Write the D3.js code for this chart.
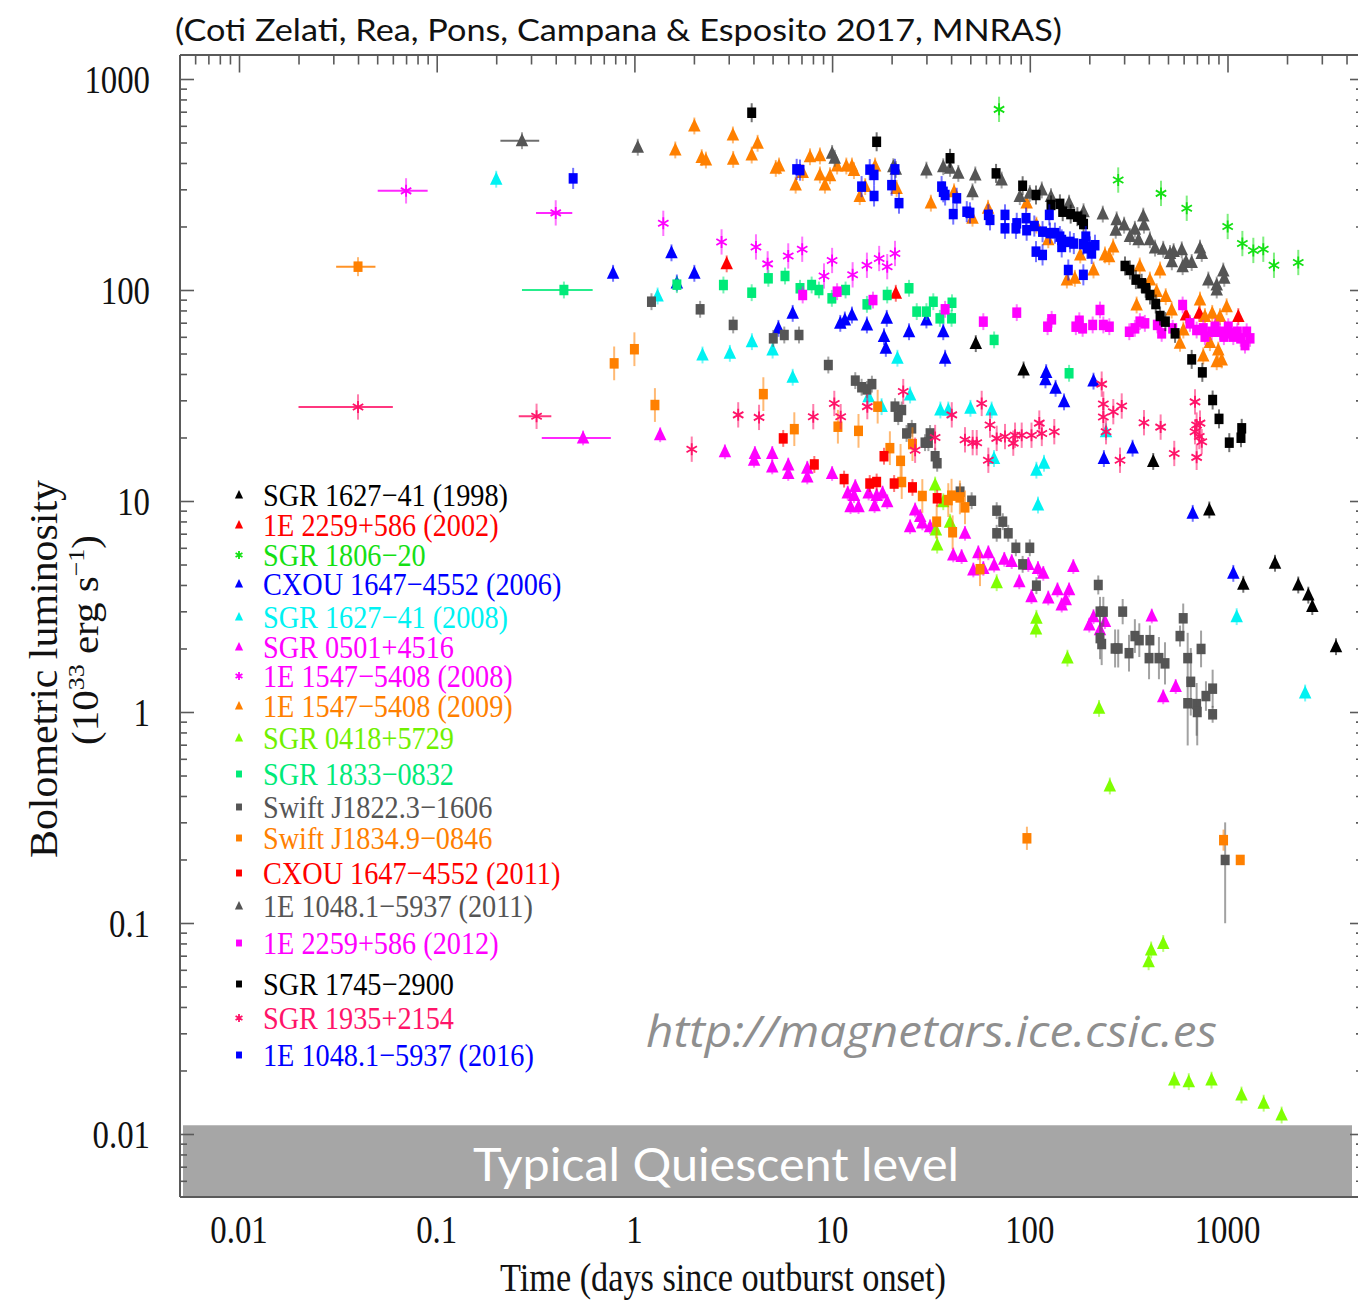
<!DOCTYPE html>
<html>
<head>
<meta charset="utf-8">
<script src="https://cdn.jsdelivr.net/npm/d3@7"></script>
<style>
  html, body { margin: 0; padding: 0; background: #ffffff; }
  svg { display: block; }
</style>
</head>
<body>
<svg id="chart" width="1358" height="1305"></svg>
<script>
// ---------------------------------------------------------------------------
// Magnetar outburst light curves: bolometric luminosity (1e33 erg/s) versus
// time since outburst onset (days).
// Point format: [t, L, errDown(dex), errUp(dex), tMin, tMax]
// Missing error entries fall back to the source's typical error.
// ---------------------------------------------------------------------------

const sgr1627_1998 = [[53.3,55.7],[93,41.8],[421,15.4],[809,9.07],[1202,4.03],[1739,5.07],[2280,4.0],[2563,3.58],[2685,3.16],[3538,2.04]];

const e2259_2002 = [[2.93,133],[21,96.5],[617,76.1],[720,77.5],[1134,74.8]];

const sgr1806 = [[69.9,718],[280,332],[461,287],[622,244],[1002,200],[1189,166],[1351,154],[1517,156],[1718,131],[2280,135]];

const cxou1647_2006 = [[0.78,120],[1.54,150],[1.64,108],[2.01,120],[5.35,65.8],[6.32,77.5],[11,69.5],[11.6,72.1],[12.6,76.1],[15,68.3],[18.3,60.1],[18.7,52.9],[18.9,73.4],[24.5,63.4],[30,72.1],[36.5,63.4],[37.3,47.5],[121,40.6],[120,37.5],[135,34.2],[149,29.5],[210,37],[237,15.9],[331,17.8],[667,8.74],[1070,4.54]];

const sgr1627_2008 = [[0.2,335],[1.31,93.7],[2.21,49.2],[3.04,50.1],[3.93,56.9],[5.0,51.9],[6.32,38.6],[15.3,31.2],[17.8,28],[21.4,47.5],[24.8,31.8],[35.3,27],[38.7,27],[50.1,27.5],[64.1,27],[65.9,15.9],[108,14.0],[118,15.1],[110,9.57],[243,21.3],[1113,2.83],[2470,1.23]];

const sgr0501 = [[0.55,19.9,null,null,0.34,0.76],[1.35,20.6],[2.87,17.1],[4.07,16.8],[4.03,15.6],[4.98,16.8],[4.98,14.5],[6.0,14.8],[6.0,13.5],[7.49,14.3],[7.49,13.0],[10,13.5],[12.0,10.9],[13.1,11.7],[12.9,10.6],[12.4,9.4],[13.6,9.4],[15.3,10.9],[16.8,10.6],[16.4,9.5],[18,10.9],[19,9.92],[26.3,9.07],[27.9,8.43],[24.8,7.55],[28.6,7.87],[31.3,7.55],[47,7.03],[41,5.55],[45.2,5.45],[54.9,5.68],[61.7,5.68],[74.3,5.29],[81,5.16],[51.8,4.71],[58.2,4.79],[66,4.97],[88.5,4.14],[98.3,5.0],[110,4.79],[117,4.54],[102,3.52],[124,3.47],[138,3.79],[145,3.21],[152,3.4],[158,3.79],[166,4.89],[200,2.58],[210,2.83],[240,2.68],[226.5,2.45],[414,2.85],[473,1.18],[547,1.32]];

const e1547_2008 = [[0.07,295,null,null,0.0503,0.090],[0.40,232,null,null,0.318,0.485],[1.40,207],[2.76,169],[4.12,160],[4.72,133],[6.0,145],[7.06,156],[9.1,116.5],[10,138],[12.7,118],[15,131],[17.3,141],[19,129],[20.8,149]];

const e1547_2009 = [[1.61,461],[2.01,599],[2.19,424],[2.30,413],[3.15,543],[3.16,416],[3.92,436],[4.2,496],[5.19,377],[5.39,387],[6.54,314],[7.1,360],[7.73,428],[8.68,432],[8.68,351],[9.2,314],[9.76,348],[10.6,387],[11.8,387],[12.6,387],[12.9,368],[13.8,277],[14.7,309],[16.5,387],[21.2,303],[31.6,258],[41.4,292],[51.3,219],[61.5,244],[96.4,258],[108,203],[124,173],[154,111.5],[169,113.6],[180,146.6],[210,124.4],[240,146.6],[252,143.8],[264,160],[360,130],[405,111.5],[456,124.4],[347,84.9],[438,98.2],[487,93],[522,80.4],[726,89.6],[769,74.8],[837,77.5],[916,74.8],[990,83.3],[598,64.6],[575,55.9],[754,48.7],[882,45.7],[935,46.6],[898,51.9],[815,56.3]];

const sgr0418 = [[33.2,11.9],[36.5,9.92],[33.5,7.29],[34,6.18],[39.5,7.93],[68,4.1],[108,2.78],[107.5,2.47],[155,1.80],[224,1.04],[254,0.446],[399,0.0655],[411,0.0745],[473,0.080],[538,0.018],[637,0.0177],[830,0.018],[1177,0.0153],[1524,0.014],[1878,0.0123]];

const sgr1833 = [[0.44,100,null,null,0.27,0.615],[1.64,106],[2.82,105.6],[3.92,97.1],[4.76,113.6],[5.78,116.5],[6.88,101.9],[7.88,105.6],[8.58,100],[9.97,91.3],[11.7,100],[15,85.5],[19,94.7],[24.5,101.9],[26.8,79],[30,79],[32.5,88],[35.1,73.4],[40.2,73.4],[40.4,87],[66,58],[158,40.3]];

const swiftJ1822 = [[1.22,88],[2.15,81],[3.16,68.3],[5.04,59],[5.73,61.2],[6.8,61.2],[9.57,44.1],[13.1,37.2],[14.1,34.6],[15,33.8],[15.9,35.8],[20.8,28],[22.5,27],[21.6,25.1],[23.8,20.9],[25.3,22.1],[29.5,18.9],[31.3,20.9],[30.7,18.9],[33.2,16.3],[34,15.1],[44.4,11.07],[50.8,10.03],[68,9.0],[73,7.98],[68,7.03],[77.8,7.03],[85,6.0],[100,6.0],[92,5.01],[108,3.97],[222,4.0,0.045],[226.5,2.99,0.07],[235.5,2.99,0.07],[226.5,2.24,0.1],[231,2.10,0.1],[270,2.0,0.09],[280,2.0,0.09],[295,2.99,0.06],[317.6,1.90,0.087],[340,2.29,0.08],[358,2.19,0.08],[405,2.19,0.07],[401,1.80,0.1],[450,1.80,0.1],[483,1.70,0.1],[597,2.78,0.07],[575,2.29,0.05],[629,1.80,0.12],[652,1.39,0.16],[735,1.99,0.087],[629,1.10,0.2,0.126],[698,1.09,0.15,0.1],[703,1.0,0.158,0.055],[778,1.19,0.07],[841,1.29,0.09],[841,0.975,0.04],[973,0.199,0.3,0.178]];

const swiftJ1834 = [[0.04,129,0.045,0.045,0.031,0.049],[0.79,44.9],[1.0,52.4],[1.27,28.5],[4.49,32.1],[6.44,21.9],[10.7,22.5],[13.6,21.5],[17,28],[19.6,17.8],[22.2,15.5],[22.5,12.3],[25.5,18.6],[28.6,10.56],[33.8,7.98],[38.7,10.1],[40.2,10.6],[44.3,10.4],[47,9.33],[40.7,7.11],[56,4.75],[96.7,0.252,0.055],[955,0.247,0.05],[1160,0.199,0]];

const cxou1647_2011 = [[5.66,19.8],[8.13,14.9],[11.5,12.7],[15.5,12.1],[16.8,12.3],[18.3,16.3],[20.6,12.1],[25.5,11.6],[34,10.3]];

const e1048_2011 = [[0.27,510,null,null,0.21,0.33],[1.04,475],[10,444],[10.3,421],[20.4,384],[21,373],[30,370],[36.5,384],[39.5,377],[43.5,357],[51.3,292],[53,351],[72,332],[89,277],[100,287],[115,298],[128,277],[158,258],[187,235],[234,229],[275,215],[272,192],[300,203],[321,179],[340,194],[375,224],[378,203],[355,173],[405,173],[430,158],[473,156],[512,149],[534,152],[523,136],[587,155],[593,129],[617,136],[659,135],[726,158],[741,149],[800,111.5],[882,105.6],[882,100],[952,123],[963,113.6]];

const e2259_2012 = [[7.1,94.7],[10.6,98.2],[16.1,89.6],[37.3,81],[58.2,70.8],[85.9,78.1],[123,67],[129,72.6],[171,67],[178,71.5],[185,65.8],[208,68.3],[226.5,80.4],[235.5,68.3],[252.5,67],[318.6,63.4],[340,65.8],[360.5,70.8],[382,69.5],[441.6,68.3],[464.5,62.3],[528,65.8],[593,84.9],[646,69.5],[698,64.6],[754,65.8],[769,60.1],[832,63.4],[865,67],[916,63.4],[959,60.1],[1009,67],[1021,62.3],[1070,60.1],[1121,63.4],[1166,59],[1226,54.8],[1250,63.4],[1300,59]];

const sgr1745 = [[3.92,692],[16.8,504],[39.5,421],[67.5,357],[92,312],[107.5,282],[128,253],[142,256],[146.7,235],[161,229],[174,222.6],[183,215],[187,205.5],[303,130],[321,124.4],[344,112],[368,107.6],[385.5,101.9],[405.5,94.7],[433.5,85.8],[456,75.3],[485,70.8],[543,62.3],[659,46.9],[746,40.7],[841,30.1],[906,24.5],[1021,18.9],[1180,22.1],[1170,19.95]];

const sgr1935 = [[0.04,27.9,null,null,0.020,0.060],[0.32,25.2,null,null,0.26,0.38],[1.95,17.6],[3.35,25.6],[4.27,24.9],[8.03,25.1],[10.26,29.0],[11.05,25.1],[15.07,28],[22.9,33],[26.3,17.4],[33.2,20],[40.3,25.6],[47,19.5],[51.4,18.9],[53.9,18.9],[57.1,29],[61.7,15.6],[62.9,22.9],[68,19.8],[74.9,20.2],[84.2,20.5],[82.5,18.8],[91,20.5],[102,20.5],[111.7,23.4],[115,20.9],[133,21.3],[231,35.8],[235.5,28.8],[235.5,25.0],[264.5,26.5],[291.7,28.2],[243,21.3],[378,23.5],[459,22.4],[286,15.6],[538,16.8],[685,29.5],[698,22.9],[726,23.4],[685,21.3],[741,19.1],[698,16.1],[720,20.2]];

const e1048_2016 = [[0.49,338],[6.62,373],[6.88,370],[14.1,309],[15.5,372],[16.3,351],[16.3,279],[20,314],[20.8,373],[21.8,258],[35.8,309],[36.5,292],[37.3,282],[42.7,272],[41,229],[48,235],[49.8,232],[61.7,227],[62.9,215],[74.9,227],[74.9,196],[85.1,196],[85.9,207],[95.7,219],[96.4,192],[105.4,201],[116,189],[125.5,227],[126.5,186],[134,186],[142,179],[107.5,152],[116,146.6],[145,172.6],[159.6,169],[167,166],[145,160],[156.6,124.4],[186.6,118],[192,179],[195.4,157.6],[201.6,160],[213.7,163],[205.6,149],[186.6,165]];

// Source names (legend order) and the matching data arrays
const SOURCE_NAMES = [
  "SGR 1627\u221241 (1998)", "1E 2259+586 (2002)", "SGR 1806\u221220", "CXOU 1647\u22124552 (2006)",
  "SGR 1627\u221241 (2008)", "SGR 0501+4516", "1E 1547\u22125408 (2008)", "1E 1547\u22125408 (2009)",
  "SGR 0418+5729", "SGR 1833\u22120832", "Swift J1822.3\u22121606", "Swift J1834.9\u22120846",
  "CXOU 1647\u22124552 (2011)", "1E 1048.1\u22125937 (2011)", "1E 2259+586 (2012)", "SGR 1745\u22122900",
  "SGR 1935+2154", "1E 1048.1\u22125937 (2016)"
];
const SOURCE_DATA = [
  sgr1627_1998, e2259_2002, sgr1806, cxou1647_2006, sgr1627_2008, sgr0501, e1547_2008, e1547_2009,
  sgr0418, sgr1833, swiftJ1822, swiftJ1834, cxou1647_2011, e1048_2011, e2259_2012, sgr1745,
  sgr1935, e1048_2016
];
// Typical 1-sigma luminosity error of each source, in dex
const SOURCE_ERR = [0.04,0.04,0.06,0.04,0.04,0.035,0.06,0.04,0.04,0.04,0.04,0.08,0.04,0.04,0.04,0.045,0.06,0.05];

// Marker styling per source
const SOURCE_COLORS = [
  "#000000", "#ff0000", "#14e014", "#0000ff", "#00f2f2", "#ff00ff", "#ff00ff", "#ff8000",
  "#7fff00", "#00ea78", "#555555", "#ff8000", "#ff0000", "#555555", "#ff00ff", "#000000",
  "#ff1469", "#0000ff"
];
const SOURCE_SHAPES = [
  "tri", "tri", "star", "tri", "tri", "tri", "star", "tri",
  "tri", "sq", "sq", "sq", "sq", "tri", "sq", "sq",
  "star", "sq"
];

// Axis ticks
const X_TICKS = [0.01, 0.1, 1, 10, 100, 1000];
const X_TICK_LABELS = ["0.01", "0.1", "1", "10", "100", "1000"];
const Y_TICKS = [1000, 100, 10, 1, 0.1, 0.01];
const Y_TICK_LABELS = ["1000", "100", "10", "1", "0.1", "0.01"];

// Upper edge of the typical quiescent luminosity band
const QUIESCENT_MAX = 0.011;

// ---------------------------------------------------------------------------
// Layout
// ---------------------------------------------------------------------------
const FRAME = { left: 180, right: 1362, top: 55, bottom: 1197 };
const LEGEND_BASELINES = [506, 536, 566, 595, 628, 658, 687, 717, 749, 785, 818, 849, 884, 917, 954, 995, 1029, 1066];
const LEGEND_FIRST_WIDTH = 245;   // rendered width of the first legend entry
const SERIF = "'Liberation Serif', 'Times New Roman', serif";
const AXIS_COLOR = "#5a5a5a";

const svg = d3.select("#chart");
svg.append("rect").attr("width", 1358).attr("height", 1305).attr("fill", "#ffffff");

const x = d3.scaleLog().domain([0.01, 1000]).range([239, 1227.5]);
const y = d3.scaleLog().domain([0.01, 1000]).range([1134, 79]);

const xLo = x.invert(FRAME.left), xHi = x.invert(FRAME.right);
const yLo = y.invert(FRAME.bottom), yHi = y.invert(FRAME.top);

function logGrid(lo, hi) {
  const out = [];
  for (let e = -4; e <= 4; e++) {
    for (let k = 1; k < 10; k++) {
      const v = +(k * Math.pow(10, e)).toPrecision(6);
      if (v >= lo && v <= hi) out.push(v);
    }
  }
  return out;
}
const isDecade = v => Math.abs(Math.log10(v) - Math.round(Math.log10(v))) < 1e-9;

// Squeeze text horizontally (condensed face look)
function squeeze(sel, factor) {
  sel.each(function () {
    const w = this.getComputedTextLength();
    this.setAttribute("textLength", (w * factor).toFixed(2));
    this.setAttribute("lengthAdjust", "spacingAndGlyphs");
  });
}

// ---------------------------------------------------------------------------
// Marker shapes
// ---------------------------------------------------------------------------
function triPath(w, h) {
  return `M${-w / 2},${h * 0.42}L0,${-h * 0.58}L${w / 2},${h * 0.42}Z`;
}
function starPath(r) {
  let d = "";
  for (const a of [90, 30, 150]) {
    const rad = a * Math.PI / 180;
    const dx = r * Math.cos(rad), dy = r * Math.sin(rad);
    d += `M${(-dx).toFixed(2)},${(-dy).toFixed(2)}L${dx.toFixed(2)},${dy.toFixed(2)}`;
  }
  return d;
}
function drawMarker(sel, shape, color, scale) {
  if (shape === "tri") {
    sel.append("path").attr("d", triPath(12.5 * scale, 13 * scale)).attr("fill", color);
  } else if (shape === "sq") {
    sel.append("rect")
      .attr("x", -4.5 * scale).attr("y", -5.25 * scale)
      .attr("width", 9 * scale).attr("height", 10.5 * scale)
      .attr("fill", color);
  } else {
    sel.append("path").attr("d", starPath(6 * scale))
      .attr("stroke", color).attr("stroke-width", 1.8).attr("fill", "none");
  }
}

// ---------------------------------------------------------------------------
// Data points
// ---------------------------------------------------------------------------
svg.append("clipPath").attr("id", "plotClip")
  .append("rect")
  .attr("x", FRAME.left).attr("y", FRAME.top)
  .attr("width", FRAME.right - FRAME.left).attr("height", FRAME.bottom - FRAME.top);

const plot = svg.append("g").attr("clip-path", "url(#plotClip)");

SOURCE_DATA.forEach((rows, i) => {
  const color = SOURCE_COLORS[i];
  const shape = SOURCE_SHAPES[i];
  const defErr = SOURCE_ERR[i];
  const pts = rows.map(r => ({
    t: r[0], L: r[1],
    lo: r[2] ?? defErr,
    hi: r[3] ?? r[2] ?? defErr,
    t0: r[4], t1: r[5]
  }));
  const g = plot.append("g").attr("class", "source");
  const p = g.selectAll("g.pt").data(pts).join("g").attr("class", "pt");

  p.filter(d => d.lo > 0 || d.hi > 0).append("line")
    .attr("x1", d => x(d.t)).attr("x2", d => x(d.t))
    .attr("y1", d => y(d.L / Math.pow(10, d.lo)))
    .attr("y2", d => y(d.L * Math.pow(10, d.hi)))
    .attr("stroke", color).attr("stroke-opacity", 0.55).attr("stroke-width", 2);

  p.filter(d => d.t0 != null).append("line")
    .attr("x1", d => x(d.t0)).attr("x2", d => x(d.t1))
    .attr("y1", d => y(d.L)).attr("y2", d => y(d.L))
    .attr("stroke", color).attr("stroke-opacity", 0.85).attr("stroke-width", 2);

  p.append("g")
    .attr("transform", d => `translate(${x(d.t)},${y(d.L)})`)
    .each(function () { drawMarker(d3.select(this), shape, color, 1); });
});

// ---------------------------------------------------------------------------
// Quiescent band
// ---------------------------------------------------------------------------
svg.append("rect")
  .attr("x", FRAME.left + 3).attr("y", y(QUIESCENT_MAX))
  .attr("width", 1352 - (FRAME.left + 3))
  .attr("height", FRAME.bottom - y(QUIESCENT_MAX))
  .attr("fill", "#a6a6a6");

svg.append("text")
  .attr("x", 716).attr("y", 1181)
  .attr("text-anchor", "middle")
  .attr("font-family", "Lato, 'Open Sans', sans-serif")
  .attr("font-size", 46)
  .attr("fill", "#ffffff")
  .attr("textLength", 486).attr("lengthAdjust", "spacingAndGlyphs")
  .text("Typical Quiescent level");

// ---------------------------------------------------------------------------
// Axes and frame
// ---------------------------------------------------------------------------
const xMinor = logGrid(xLo, xHi).filter(v => !isDecade(v));
const xMajor = logGrid(xLo, xHi).filter(isDecade);
const yMinor = logGrid(yLo, yHi).filter(v => !isDecade(v));
const yMajor = logGrid(yLo, yHi).filter(isDecade);

function styleAxis(g) {
  g.select(".domain").remove();
  g.selectAll(".tick text").remove();
  g.selectAll(".tick line").attr("stroke", AXIS_COLOR).attr("stroke-width", 1.6);
}

const axes = svg.append("g");
// top
axes.append("g").attr("transform", `translate(0,${FRAME.top})`)
  .call(d3.axisBottom(x).tickValues(xMinor).tickSize(9.5).tickFormat("")).call(styleAxis);
axes.append("g").attr("transform", `translate(0,${FRAME.top})`)
  .call(d3.axisBottom(x).tickValues(xMajor).tickSize(17.5).tickFormat("")).call(styleAxis);
// left
axes.append("g").attr("transform", `translate(${FRAME.left},0)`)
  .call(d3.axisRight(y).tickValues(yMinor).tickSize(7).tickFormat("")).call(styleAxis);
axes.append("g").attr("transform", `translate(${FRAME.left},0)`)
  .call(d3.axisRight(y).tickValues(yMajor).tickSize(14).tickFormat("")).call(styleAxis);
// right
axes.append("g").attr("transform", `translate(${FRAME.right},0)`)
  .call(d3.axisLeft(y).tickValues(yMinor).tickSize(6).tickFormat("")).call(styleAxis);
axes.append("g").attr("transform", `translate(${FRAME.right},0)`)
  .call(d3.axisLeft(y).tickValues(yMajor).tickSize(12).tickFormat("")).call(styleAxis);

// frame lines (bottom band hides the lower ticks)
axes.append("line").attr("x1", FRAME.left).attr("x2", FRAME.right).attr("y1", FRAME.top).attr("y2", FRAME.top)
  .attr("stroke", AXIS_COLOR).attr("stroke-width", 2);
axes.append("line").attr("x1", FRAME.left).attr("x2", FRAME.left).attr("y1", FRAME.top).attr("y2", FRAME.bottom)
  .attr("stroke", AXIS_COLOR).attr("stroke-width", 2);
axes.append("line").attr("x1", FRAME.left).attr("x2", FRAME.right).attr("y1", FRAME.bottom).attr("y2", FRAME.bottom)
  .attr("stroke", AXIS_COLOR).attr("stroke-width", 2);

// tick labels
const xLab = svg.append("g").selectAll("text").data(X_TICKS).join("text")
  .attr("x", d => x(d)).attr("y", 1243)
  .attr("text-anchor", "middle")
  .attr("font-family", SERIF).attr("font-size", 40).attr("fill", "#111")
  .text((d, i) => X_TICK_LABELS[i]);
squeeze(xLab, 0.82);

const yLab = svg.append("g").selectAll("text").data(Y_TICKS).join("text")
  .attr("x", 150).attr("y", d => y(d) + 14)
  .attr("text-anchor", "end")
  .attr("font-family", SERIF).attr("font-size", 40).attr("fill", "#111")
  .text((d, i) => Y_TICK_LABELS[i]);
squeeze(yLab, 0.82);

// axis titles
svg.append("text")
  .attr("x", 723).attr("y", 1291)
  .attr("text-anchor", "middle")
  .attr("font-family", SERIF).attr("font-size", 40).attr("fill", "#111")
  .attr("textLength", 446).attr("lengthAdjust", "spacingAndGlyphs")
  .text("Time (days since outburst onset)");

svg.append("text")
  .attr("transform", "rotate(-90)")
  .attr("x", -669).attr("y", 57)
  .attr("text-anchor", "middle")
  .attr("font-family", SERIF).attr("font-size", 40).attr("fill", "#111")
  .attr("textLength", 378).attr("lengthAdjust", "spacingAndGlyphs")
  .text("Bolometric luminosity");

const yt2 = svg.append("text")
  .attr("transform", "rotate(-90)")
  .attr("x", -640).attr("y", 98)
  .attr("text-anchor", "middle")
  .attr("font-family", SERIF).attr("font-size", 38).attr("fill", "#111")
  .attr("textLength", 210).attr("lengthAdjust", "spacingAndGlyphs");
yt2.append("tspan").text("(10");
yt2.append("tspan").attr("dy", -14).attr("font-size", 24).text("33");
yt2.append("tspan").attr("dy", 14).text(" erg s");
yt2.append("tspan").attr("dy", -14).attr("font-size", 24).text("\u22121");
yt2.append("tspan").attr("dy", 14).text(")");

// ---------------------------------------------------------------------------
// Legend
// ---------------------------------------------------------------------------
const legend = svg.append("g");
const rows = legend.selectAll("g").data(SOURCE_NAMES).join("g");
rows.append("g")
  .attr("transform", (d, i) => `translate(239,${LEGEND_BASELINES[i] - 11})`)
  .each(function (d, i) { drawMarker(d3.select(this), SOURCE_SHAPES[i], SOURCE_COLORS[i], 0.66); });
const legText = rows.append("text")
  .attr("x", 263).attr("y", (d, i) => LEGEND_BASELINES[i])
  .attr("font-family", SERIF).attr("font-size", 32)
  .attr("fill", (d, i) => SOURCE_COLORS[i] === "#7fff00" ? "#70f000" : SOURCE_COLORS[i])
  .text(d => d);
const legFactor = LEGEND_FIRST_WIDTH / legText.node().getComputedTextLength();
squeeze(legText, legFactor);

// ---------------------------------------------------------------------------
// Title and site address
// ---------------------------------------------------------------------------
svg.append("text")
  .attr("x", 175).attr("y", 41)
  .attr("font-family", "Lato, 'Noto Sans', sans-serif").attr("font-size", 30).attr("fill", "#111")
  .attr("textLength", 887).attr("lengthAdjust", "spacingAndGlyphs")
  .text("(Coti Zelati, Rea, Pons, Campana & Esposito 2017, MNRAS)");

svg.append("text")
  .attr("x", 646).attr("y", 1047)
  .attr("font-family", "'Open Sans', 'Noto Sans', sans-serif").attr("font-style", "italic")
  .attr("font-size", 44).attr("fill", "#8f8f8f")
  .attr("textLength", 571).attr("lengthAdjust", "spacingAndGlyphs")
  .text("http://magnetars.ice.csic.es");
</script>
</body>
</html>
